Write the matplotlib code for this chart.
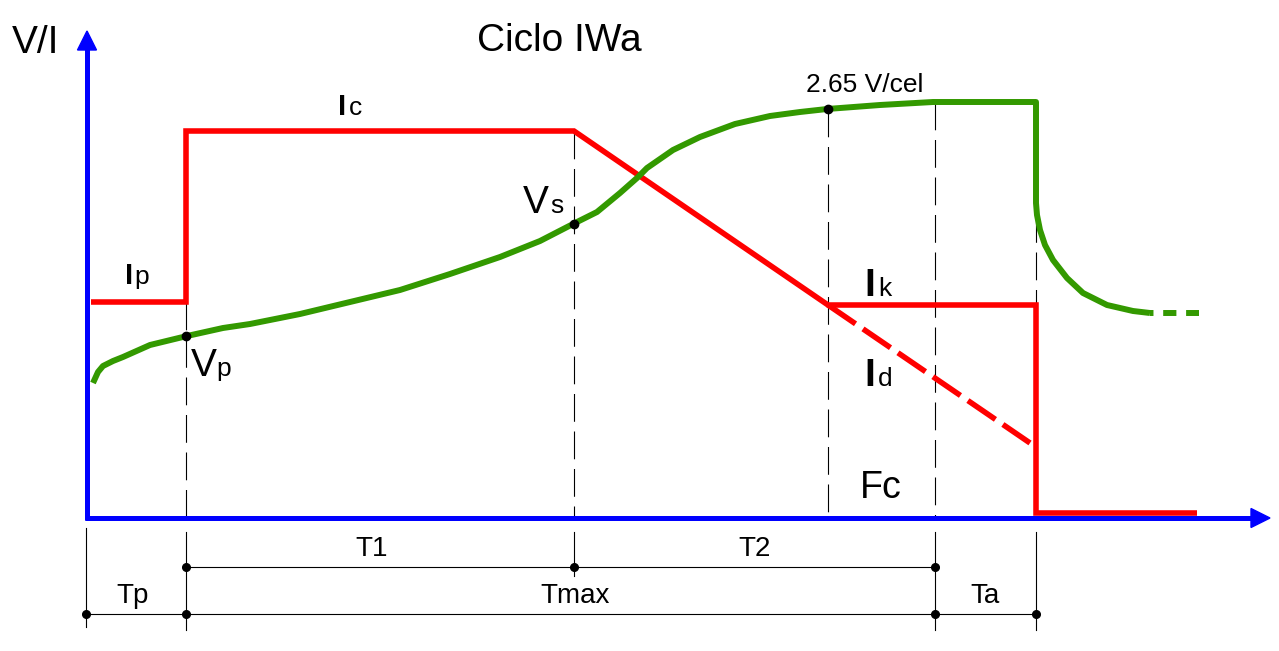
import matplotlib
matplotlib.use('Agg')
import matplotlib.pyplot as plt

plt.rcParams['font.family'] = ['Liberation Sans', 'DejaVu Sans']
plt.rcParams['lines.scale_dashes'] = False

# instantes del ciclo (eje x, en px del dibujo)
t_ini = 86
t_p = 186
t_1 = 574
t_k = 828
t_max = 935
t_a = 1036
t_fin = 1197

# corriente (rojo)
i_t = [91, t_p, t_p, t_1, t_k, t_a, t_a, t_fin]
i_v = [302, 302, 131, 131, 305, 305, 513, 513]
# continuacion en trazos de Id
id_t = [t_k, 1030]
id_v = [305, 443]

# tension (verde)
v_t = [93, 98, 103, 113, 123, 150, 187, 223, 250, 300, 350, 400, 450, 500, 540, 573,
       597, 620, 637, 647, 673, 700, 735, 770, 800, 827, 880, 933, 1036,
       1036, 1037, 1040, 1045, 1053, 1067, 1083, 1107, 1133, 1150]
v_v = [383, 372, 366, 361, 357, 345, 336, 328, 324, 314, 302, 290, 274, 257, 241, 224,
       212, 193, 178, 168, 150, 137, 124, 116, 112, 109, 105, 102, 102,
       203, 215, 230, 245, 260, 278, 293, 305, 311, 313]
vfin_t = [1150, 1199]
vfin_v = [313, 313]

# puntos marcados
pts_t = [t_p, t_1, t_k]
pts_v = [336, 224, 109]

green = '#339900'
fig = plt.figure(figsize=(12.79, 6.51), dpi=100)
ax = fig.add_axes([0, 0, 1, 1])
ax.set_xlim(0, 1279)
ax.set_ylim(651, 0)
ax.axis('off')

y_axis = 518
guia = dict(color='black', lw=0.8, linestyle=(0, (20, 7)), zorder=1)
ax.plot([t_p, t_p], [302, y_axis], **guia)
ax.plot([t_1, t_1], [131, y_axis], **guia)
ax.plot([t_k, t_k], [109, y_axis], **guia)
ax.plot([t_max, t_max], [102, y_axis], **guia)
ax.plot([t_a, t_a], [102, 305], **guia)

ax.plot(i_t, i_v, color='red', lw=4, solid_joinstyle='miter', solid_capstyle='butt', zorder=3)
ax.plot(id_t, id_v, color='red', lw=4, linestyle=(0, (24, 6.5)), zorder=3)
ax.plot(v_t, v_v, color=green, lw=4.3, solid_joinstyle='round', solid_capstyle='butt', zorder=4)
ax.plot(vfin_t, vfin_v, color=green, lw=4.3, linestyle=(7, (9.5, 7)), zorder=4)
ax.plot(pts_t, pts_v, 'o', color='black', ms=6, zorder=5)

# ejes azules
ax.plot([87, 87], [y_axis + 2, 48], color='blue', lw=3.6, solid_capstyle='butt', zorder=6)
ax.plot([85, 1253], [y_axis, y_axis], color='blue', lw=3.6, solid_capstyle='butt', zorder=6)
ax.fill([77.5, 96.5, 87], [50, 50, 31], color='blue', zorder=6)
ax.fill([1251, 1251, 1270], [508.5, 527.5, y_axis], color='blue', zorder=6)

# cotas
row1 = 567
row2 = 614
for x, y0, y1 in [(t_ini, 528, 627), (t_p, 532, 630), (t_1, 532, 576),
                  (t_max, 532, 630), (t_a, 532, 630)]:
    ax.plot([x, x], [y0, y1], color='black', lw=0.8, zorder=2)
ax.plot([t_p, t_max], [row1, row1], color='black', lw=0.8)
ax.plot([t_ini, t_a], [row2, row2], color='black', lw=0.8)
ax.plot([t_p, t_1, t_max], [row1] * 3, 'o', color='black', ms=5.5)
ax.plot([t_ini, t_p, t_max, t_a], [row2] * 4, 'o', color='black', ms=5.5)

tk = dict(fontsize=20, ha='center', va='baseline')
ax.text(372, 556, 'T1', **tk)
ax.text(755, 556, 'T2', **tk)
ax.text(133, 603, 'Tp', **tk)
ax.text(575, 603, 'Tmax', **tk)
ax.text(985, 603, 'Ta', **tk)

# textos
ax.text(12, 53, 'V/I', fontsize=28, va='baseline', ha='left')
ax.text(559, 51, 'Ciclo IWa', fontsize=28, va='baseline', ha='center')
ax.text(806, 92, '2.65 V/cel', fontsize=19, va='baseline', ha='left')
ax.text(860, 498, 'Fc', fontsize=27, va='baseline', ha='left')


def lab(x, y, main, sub, xs, size, sub_size=19, weight='normal'):
    ax.text(x, y, main, fontsize=size, fontweight=weight, va='baseline', ha='left')
    ax.text(xs, y, sub, fontsize=sub_size, va='baseline', ha='left')


lab(125, 284, 'I', 'p', 134, 21, weight='bold')
lab(338, 115, 'I', 'c', 349, 21, weight='bold')
lab(191, 376, 'V', 'p', 216, 28)
lab(523, 213, 'V', 's', 550, 28)
lab(864, 296, 'I', 'k', 878, 28, weight='bold')
lab(864, 386, 'I', 'd', 878, 28, weight='bold')

fig.savefig('out.png', dpi=100)
